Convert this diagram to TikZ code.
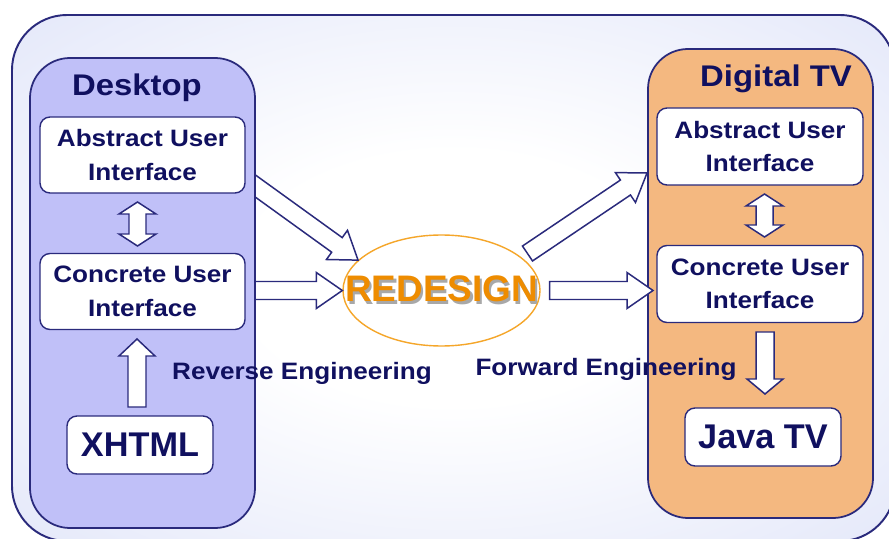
\documentclass[tikz,border=0pt]{standalone}
\usepackage{fontspec}
\setmainfont{Liberation Sans}
\newfontfamily\wideface{Liberation Sans}[FakeStretch=1.1]
\usetikzlibrary{calc,shapes.geometric}
\definecolor{Ink}{HTML}{10105F}
\definecolor{Edge}{HTML}{2A2A7C}
\definecolor{Haze}{HTML}{DDE2F8}
\definecolor{Lilac}{HTML}{C0C0F8}
\definecolor{Peach}{HTML}{F4B880}
\definecolor{Amber}{HTML}{EE8C00}
\definecolor{AmberLine}{HTML}{F5A62A}
\definecolor{Shade}{HTML}{A8A8A8}
\pgfdeclareradialshading{haze}{\pgfpoint{0bp}{0bp}}{color(0bp)=(white); color(12bp)=(white); color(42bp)=(Haze); color(100bp)=(Haze)}
\tikzset{
  panel/.style={draw=Edge,line width=1pt,rounded corners=0.8cm},
  box/.style={draw=Edge,line width=0.8pt,fill=white,rounded corners=0.2cm,minimum width=4.1cm,minimum height=1.52cm,align=center,text=Ink,font=\wideface\bfseries\fontsize{13.5}{19}\selectfont},
  tagbox/.style={box,minimum width=2.92cm,minimum height=1.16cm,font=\bfseries\fontsize{19.5}{22}\selectfont},
  title/.style={text=Ink,font=\wideface\bfseries\fontsize{17}{20}\selectfont},
  caption/.style={text=Ink,font=\wideface\bfseries\fontsize{13.5}{16}\selectfont},
  hub/.style={ellipse,draw=AmberLine,line width=0.8pt,fill=white,minimum width=3.94cm,minimum height=2.22cm,inner sep=0pt,text=Amber,font=\bfseries\fontsize{21}{24}\selectfont},
  fat/.style={draw=Edge,fill=white,line width=0.85pt,line join=miter}
}
% hollow block arrow from #2 to #3, #1 = head length
\newcommand\fatarrow[3][0.52cm]{%
  \coordinate (fa) at ($(#3)!#1!(#2)$);
  \draw[fat] ($(#2)!0.18cm!90:(#3)$) -- ($(fa)!0.18cm!90:(#3)$) -- ($(fa)!0.36cm!90:(#3)$) -- (#3)
    -- ($(fa)!0.36cm!-90:(#3)$) -- ($(fa)!0.18cm!-90:(#3)$) -- ($(#2)!0.18cm!-90:(#3)$) -- cycle;}
% hollow block arrow with a head at both ends
\newcommand\twinarrow[2]{%
  \coordinate (ta) at ($(#1)!0.24cm!(#2)$);
  \coordinate (tb) at ($(#2)!0.24cm!(#1)$);
  \draw[fat] (#1) -- ($(ta)!0.37cm!90:(#2)$) -- ($(ta)!0.17cm!90:(#2)$) -- ($(tb)!0.17cm!-90:(#1)$)
    -- ($(tb)!0.37cm!-90:(#1)$) -- (#2) -- ($(tb)!0.37cm!90:(#1)$) -- ($(tb)!0.17cm!90:(#1)$)
    -- ($(ta)!0.17cm!-90:(#2)$) -- ($(ta)!0.37cm!-90:(#2)$) -- cycle;}
\newcommand\shadowtext[1]{\rlap{\kern1.4pt\raisebox{-1.4pt}{\textcolor{Shade}{#1}}}#1}

\begin{document}
\begin{tikzpicture}
  \useasboundingbox (0,0) rectangle (17.78,10.76);
  \path[draw=Edge,line width=1.1pt,rounded corners=1.1cm,shade,shading=haze] (0.24,-0.06) rectangle (17.9,10.46);

  \node[hub] (redesign) at (8.83,4.95) {\makebox[0pt]{\shadowtext{REDESIGN}}};

  % reverse engineering arrows, tails tucked under the panel
  \coordinate (rev1) at (4.94,7.16);
  \coordinate (rev2) at (4.9,4.95);
  \fatarrow{rev1}{redesign.160}
  \fatarrow{rev2}{redesign.west}

  % desktop side
  \draw[panel,fill=Lilac] (0.6,0.2) rectangle (5.1,9.6);
  \node[title] (desk) at (2.74,9.0) {Desktop};
  \node[box] (dAbs) at (2.85,7.66) {Abstract User\\Interface};
  \node[box] (dCon) at (2.85,4.93) {Concrete User\\Interface};
  \node[tagbox] (xhtml) at (2.8,1.86) {XHTML};

  % digital tv side
  \draw[panel,fill=Peach] (12.96,0.4) rectangle (17.46,9.78);
  \node[title] (tv) at (15.52,9.18) {Digital TV};
  \node[box,minimum width=4.12cm,minimum height=1.54cm] (tAbs) at (15.2,7.83) {Abstract User\\Interface};
  \node[box,minimum width=4.12cm,minimum height=1.54cm] (tCon) at (15.2,5.08) {Concrete User\\Interface};
  \node[tagbox,minimum width=3.12cm] (javatv) at (15.26,2.02) {Java TV};

  % forward engineering arrows
  \coordinate (fwd1) at (10.55,5.69);
  \coordinate (fwd1tip) at (12.94,7.30);
  \coordinate (fwd2) at ($(redesign.east)+(0.18,0)$);
  \coordinate (fwd2tip) at (13.06,4.95);
  \fatarrow{fwd1}{fwd1tip}
  \fatarrow{fwd2}{fwd2tip}

  % arrows inside the panels
  \coordinate (dTop) at (2.75,6.72);
  \coordinate (dBot) at (2.75,5.84);
  \twinarrow{dTop}{dBot}
  \coordinate (xUp) at (2.74,2.62);
  \coordinate (xUpTip) at (2.74,3.98);
  \fatarrow[0.34cm]{xUp}{xUpTip}
  \coordinate (tTop) at (15.29,6.88);
  \coordinate (tBot) at (15.29,6.02);
  \twinarrow{tTop}{tBot}
  \coordinate (jDown) at (15.3,4.12);
  \coordinate (jDownTip) at (15.3,2.88);
  \fatarrow[0.3cm]{jDown}{jDownTip}

  \node[caption] (rev) at (6.04,3.3) {Reverse Engineering};
  \node[caption] (fwd) at (12.12,3.38) {Forward Engineering};
\end{tikzpicture}
\end{document}
